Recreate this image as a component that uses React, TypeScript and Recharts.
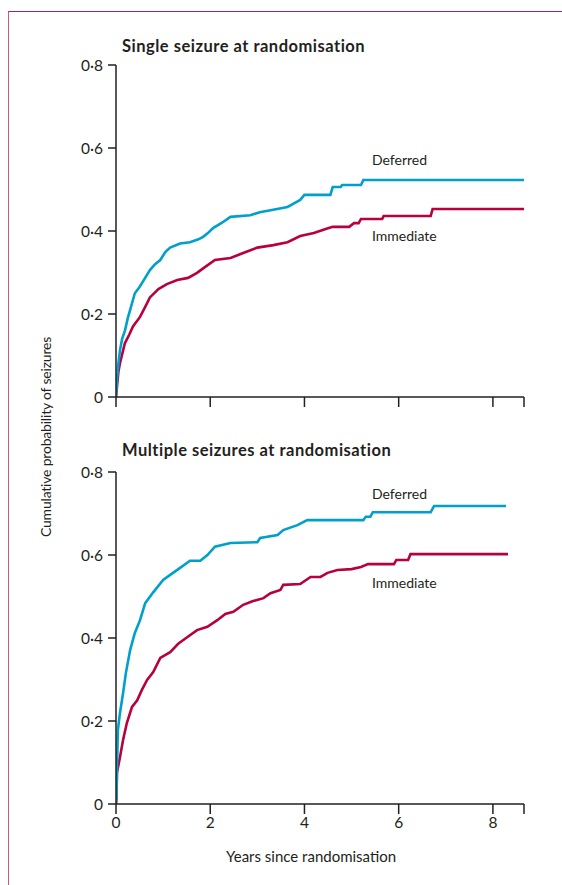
import { LineChart, Line, XAxis, YAxis } from "recharts";

// [years, cumulative probability]
const singleDeferred: [number, number][] = [
  [0, 0], [0.02, 0.04], [0.05, 0.08], [0.085, 0.113], [0.13, 0.14], [0.19, 0.16],
  [0.25, 0.19], [0.3, 0.21], [0.4, 0.25], [0.5, 0.265], [0.58, 0.28], [0.72, 0.306],
  [0.83, 0.32], [0.94, 0.33], [1.05, 0.35], [1.15, 0.36], [1.36, 0.37], [1.57, 0.373],
  [1.75, 0.38], [1.85, 0.386], [1.95, 0.395], [2.06, 0.407], [2.25, 0.42], [2.43, 0.434],
  [2.85, 0.438], [3.05, 0.445], [3.28, 0.45], [3.64, 0.458], [3.75, 0.465], [3.91, 0.475],
  [4.0, 0.487], [4.55, 0.487], [4.6, 0.506], [4.77, 0.506], [4.8, 0.511], [5.2, 0.511],
  [5.25, 0.523], [8.66, 0.523],
];

const singleImmediate: [number, number][] = [
  [0, 0], [0.02, 0.024], [0.05, 0.06], [0.085, 0.082], [0.19, 0.13], [0.28, 0.15],
  [0.36, 0.17], [0.51, 0.193], [0.62, 0.217], [0.72, 0.24], [0.9, 0.26], [1.08, 0.272],
  [1.3, 0.282], [1.53, 0.287], [1.72, 0.299], [1.85, 0.31], [2.1, 0.33], [2.43, 0.335],
  [2.7, 0.347], [3.0, 0.36], [3.34, 0.366], [3.64, 0.373], [3.91, 0.388], [4.2, 0.395],
  [4.45, 0.405], [4.6, 0.41], [4.95, 0.41], [5.05, 0.419], [5.15, 0.419], [5.2, 0.429],
  [5.65, 0.429], [5.68, 0.436], [6.68, 0.436], [6.72, 0.453], [8.66, 0.453],
];

const multiDeferred: [number, number][] = [
  [0, 0], [0.01, 0.017], [0.02, 0.08], [0.04, 0.178], [0.085, 0.22], [0.15, 0.267],
  [0.21, 0.316], [0.3, 0.371], [0.4, 0.412], [0.51, 0.443], [0.62, 0.484], [0.79, 0.51],
  [1.0, 0.54], [1.15, 0.552], [1.36, 0.569], [1.57, 0.586], [1.79, 0.586], [1.94, 0.6],
  [2.1, 0.62], [2.43, 0.629], [3.0, 0.631], [3.06, 0.641], [3.43, 0.648], [3.55, 0.66],
  [3.85, 0.672], [4.06, 0.684], [5.25, 0.684], [5.3, 0.692], [5.4, 0.692], [5.45, 0.703],
  [6.68, 0.703], [6.75, 0.718], [8.28, 0.718],
];

const multiImmediate: [number, number][] = [
  [0, 0], [0.01, 0.014], [0.02, 0.075], [0.085, 0.113], [0.15, 0.154], [0.23, 0.195],
  [0.34, 0.234], [0.45, 0.25], [0.55, 0.275], [0.66, 0.299], [0.79, 0.318], [0.94, 0.352],
  [1.15, 0.366], [1.32, 0.386], [1.51, 0.402], [1.72, 0.419], [1.94, 0.427], [2.15, 0.443],
  [2.32, 0.458], [2.49, 0.463], [2.7, 0.48], [2.91, 0.489], [3.13, 0.496], [3.28, 0.508],
  [3.49, 0.516], [3.55, 0.528], [3.91, 0.53], [4.13, 0.547], [4.34, 0.547], [4.49, 0.557],
  [4.7, 0.564], [5.0, 0.566], [5.2, 0.571], [5.35, 0.578], [5.9, 0.578], [5.95, 0.588],
  [6.2, 0.588], [6.25, 0.602], [8.32, 0.602],
];

const xTicks = [0, 2, 4, 6, 8, 8.66];
const yTicks = [0, 0.2, 0.4, 0.6, 0.8];

const BLUE = "#00a0cc";
const RED = "#b8003f";
const INK = "#231f20";
const FONT = "Lato, 'Open Sans', sans-serif";

const toPoints = (arr: [number, number][]) => arr.map(([x, y]) => ({ x, y }));
const fmtY = (v: number) => (v === 0 ? "0" : v.toFixed(1).replace(".", "·"));

function Panel({
  deferred,
  immediate,
  showXLabels,
}: {
  deferred: [number, number][];
  immediate: [number, number][];
  showXLabels: boolean;
}) {
  const tick = { fill: INK, fontSize: 15.5, fontFamily: FONT };
  return (
    <LineChart width={562} height={430} margin={{ top: 65, right: 38, left: 76, bottom: 3 }}>
      <XAxis
        type="number"
        dataKey="x"
        domain={[0, 8.66]}
        ticks={xTicks}
        allowDataOverflow
        height={30}
        tickSize={10}
        tickMargin={3}
        tick={tick}
        tickFormatter={(v: number) => (showXLabels && v !== 8.66 ? String(v) : "")}
        axisLine={{ stroke: INK, strokeWidth: 1.5 }}
        tickLine={{ stroke: INK, strokeWidth: 1.5 }}
      />
      <YAxis
        type="number"
        domain={[0, 0.8]}
        ticks={yTicks}
        width={40}
        tickSize={8}
        tickMargin={5}
        tick={tick}
        tickFormatter={fmtY}
        axisLine={{ stroke: INK, strokeWidth: 1.5 }}
        tickLine={{ stroke: INK, strokeWidth: 1.5 }}
      />
      <Line
        data={toPoints(immediate)}
        dataKey="y"
        type="linear"
        stroke={RED}
        strokeWidth={2.6}
        dot={false}
        isAnimationActive={false}
      />
      <Line
        data={toPoints(deferred)}
        dataKey="y"
        type="linear"
        stroke={BLUE}
        strokeWidth={2.6}
        dot={false}
        isAnimationActive={false}
      />
    </LineChart>
  );
}

const txt = (left: number, top: number, extra: object = {}) => ({
  position: "absolute" as const,
  left,
  top,
  fontFamily: FONT,
  fontSize: 14,
  color: INK,
  whiteSpace: "nowrap" as const,
  lineHeight: "16px",
  ...extra,
});

export default function App() {
  return (
    <div style={{ position: "absolute", left: 0, top: 0, width: 562, height: 885, background: "#fff", overflow: "hidden" }}>
      <div
        style={{
          position: "absolute",
          left: 8,
          top: 11,
          width: 560,
          height: 880,
          borderTop: "1.5px solid #b81e50",
          borderLeft: "1.5px solid #d2557f",
        }}
      />
      <div style={{ position: "absolute", left: 0, top: 0 }}>
        <Panel deferred={singleDeferred} immediate={singleImmediate} showXLabels={false} />
      </div>
      <div style={{ position: "absolute", left: 0, top: 407 }}>
        <Panel deferred={multiDeferred} immediate={multiImmediate} showXLabels />
      </div>
      <div style={txt(122, 36, { fontWeight: 700, fontSize: 16.5, letterSpacing: 0.5, lineHeight: "20px" })}>
        Single seizure at randomisation
      </div>
      <div style={txt(122, 440, { fontWeight: 700, fontSize: 16.5, letterSpacing: 0.5, lineHeight: "20px" })}>
        Multiple seizures at randomisation
      </div>
      <div style={txt(372, 152)}>Deferred</div>
      <div style={txt(372, 228)}>Immediate</div>
      <div style={txt(372, 486)}>Deferred</div>
      <div style={txt(372, 575)}>Immediate</div>
      <div style={txt(226, 848, { fontSize: 15 })}>Years since randomisation</div>
      <div
        style={txt(46, 437, {
          fontSize: 14,
          letterSpacing: -0.2,
          transform: "translate(-50%, -50%) rotate(-90deg)",
        })}
      >
        Cumulative probability of seizures
      </div>
    </div>
  );
}
